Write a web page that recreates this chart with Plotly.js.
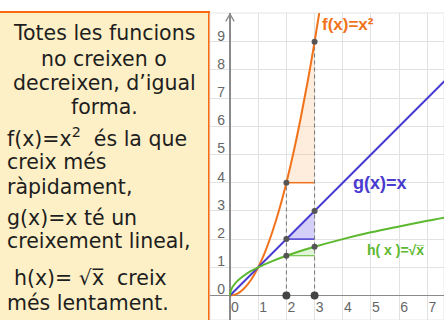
<!DOCTYPE html>
<html>
<head>
<meta charset="utf-8">
<script src="https://cdn.plot.ly/plotly-3.0.1.min.js"></script>
<style>
  html, body { margin: 0; padding: 0; background: #fff; }
  #chart { width: 444px; height: 320px; }
</style>
</head>
<body>
<div id="chart"></div>
<script>
// Sampled points of the three functions
const fX = [0, 0.25, 0.5, 0.75, 1, 1.25, 1.5, 1.75, 2, 2.25, 2.5, 2.75, 3, 3.17];
const fY = [0, 0.06, 0.25, 0.56, 1, 1.56, 2.25, 3.06, 4, 5.06, 6.25, 7.56, 9, 10.05];
const gX = [0, 7.6];
const gY = [0, 7.6];
const hX = [0, 0.02, 0.05, 0.1, 0.2, 0.35, 0.5, 0.75, 1, 1.5, 2, 2.5, 3, 4, 5, 6, 7, 7.6];
const hY = [0, 0.14, 0.22, 0.32, 0.45, 0.59, 0.71, 0.87, 1, 1.22, 1.41, 1.58, 1.73, 2, 2.24, 2.45, 2.65, 2.76];

// Marked points at x = 2 and x = 3
const markX = [2, 3];
const fMark = [4, 9];
const gMark = [2, 3];
const hMark = [1.41, 1.73];
const axisMark = [0, 0];

const xTicks = [0, 1, 2, 3, 4, 5, 6, 7];
const yTicks = [0, 1, 2, 3, 4, 5, 6, 7, 8, 9];

const xRange = [-0.709, 7.589];
const yRange = [-0.869, 10.018];

const ORANGE = '#f0731c';
const BLUE = '#4a3bd0';
const GREEN = '#5cb82e';

// page geometry helpers (pixels -> paper coordinates)
const W = 444, H = 320, ML = 210, MT = 13;
const px = x => (x - ML) / (W - ML);
const py = y => (H - y) / (H - MT);

// slope triangle between the two marked points
function tri(ys, fill) {
  return {
    x: [markX[0], markX[1], markX[1], markX[0]],
    y: [ys[0], ys[0], ys[1], ys[0]],
    mode: 'lines', fill: 'toself', fillcolor: fill,
    line: { width: 0 }, hoverinfo: 'skip'
  };
}
function run(ys, color, w) {
  return {
    x: [markX[0], markX[1]], y: [ys[0], ys[0]],
    mode: 'lines', line: { color: color, width: w }, hoverinfo: 'skip'
  };
}
function dashed(i, top) {
  return {
    x: [markX[i], markX[i]], y: [axisMark[i], top[i]],
    mode: 'lines', line: { color: '#777', width: 1, dash: '4px,3px' }, hoverinfo: 'skip'
  };
}

const traces = [
  tri(fMark, 'rgba(250,175,100,0.22)'),
  tri(gMark, 'rgba(120,105,235,0.32)'),
  tri(hMark, 'rgba(130,210,100,0.25)'),
  run(fMark, ORANGE, 1.5),
  run(gMark, BLUE, 1.5),
  run(hMark, GREEN, 1),
  dashed(0, fMark),
  dashed(1, fMark),
  { x: fX, y: fY, mode: 'lines', line: { color: ORANGE, width: 2, shape: 'spline' } },
  { x: gX, y: gY, mode: 'lines', line: { color: BLUE, width: 2 } },
  { x: hX, y: hY, mode: 'lines', line: { color: GREEN, width: 2, shape: 'spline' } },
  { x: markX, y: fMark, mode: 'markers', marker: { color: '#555', size: 6 } },
  { x: markX, y: gMark, mode: 'markers', marker: { color: '#555', size: 6 } },
  { x: markX, y: hMark, mode: 'markers', marker: { color: '#555', size: 6 } },
  { x: markX, y: axisMark, mode: 'markers', marker: { color: '#444', size: 8 } }
];

const textFont = { family: 'DejaVu Sans', size: 20.5, color: '#1e1e1e' };
function line(text, xpx, ypx, anchor) {
  return {
    xref: 'paper', yref: 'paper', x: px(xpx), y: py(ypx),
    xanchor: anchor, yanchor: 'middle', showarrow: false,
    text: text, font: textFont
  };
}

const annotations = [
  line('Totes les funcions', 104, 33, 'center'),
  line('no creixen o', 104, 59, 'center'),
  line('decreixen, d’igual', 104, 83, 'center'),
  line('forma.', 104, 107, 'center'),
  line('f(x)=x<sup>2</sup>  és la que', 5, 137, 'left'),
  line('creix més', 5, 162, 'left'),
  line('ràpidament,', 5, 187, 'left'),
  line('g(x)=x té un', 5, 218, 'left'),
  line('creixement lineal,', 5, 241, 'left'),
  line('h(x)= √x̅  creix', 12, 278, 'left'),
  line('més lentament.', 5, 303, 'left'),
  // function labels on the graph
  { x: 3.2, y: 9.6, xanchor: 'left', yanchor: 'middle', showarrow: false,
    text: 'f(x)=x²', font: { family: 'Liberation Sans', size: 17, color: ORANGE, weight: 'bold' } },
  { x: 4.3, y: 4.0, xanchor: 'left', yanchor: 'middle', showarrow: false,
    text: 'g(x)=x', font: { family: 'Liberation Sans', size: 18, color: BLUE, weight: 'bold' } },
  { x: 4.8, y: 1.62, xanchor: 'left', yanchor: 'middle', showarrow: false,
    text: 'h( x )=√x̅', font: { family: 'Liberation Sans', size: 14, color: GREEN, weight: 'bold' } }
];

const shapes = [
  // text panel on the left
  { type: 'rect', xref: 'paper', yref: 'paper', layer: 'below',
    x0: px(-3), x1: px(209), y0: py(323), y1: py(12),
    fillcolor: '#fdf0c6', line: { color: '#fa6a10', width: 2 } },
  // faint frame of the graphics view
  { type: 'rect', xref: 'paper', yref: 'paper', layer: 'below',
    x0: 0, x1: 1, y0: 0, y1: 1, line: { color: '#e6e6e6', width: 1 } },
  // arrow tip of the vertical axis
  { type: 'path', xref: 'x', yref: 'y', layer: 'above',
    path: 'M -0.15 9.72 L 0 9.98 L 0.15 9.72',
    line: { color: '#8a8a8a', width: 1.3 } }
];

const axisCommon = {
  showgrid: true, gridcolor: '#e2e2e2', gridwidth: 1,
  zeroline: true, zerolinecolor: '#8a8a8a', zerolinewidth: 1.5,
  showline: false, ticks: '', fixedrange: true,
  tickfont: { family: 'Liberation Sans', size: 14, color: '#666' }
};

const layout = {
  width: W, height: H,
  margin: { l: ML, r: 0, t: MT, b: 0 },
  paper_bgcolor: '#fff', plot_bgcolor: '#fff',
  showlegend: false,
  xaxis: Object.assign({}, axisCommon, {
    range: xRange, tickvals: xTicks, ticktext: xTicks.map(String),
    anchor: 'free', position: (0 - yRange[0]) / (yRange[1] - yRange[0]),
    ticklabelshift: 5, ticklabelstandoff: 2
  }),
  yaxis: Object.assign({}, axisCommon, {
    range: yRange, tickvals: yTicks, ticktext: yTicks.map(String),
    anchor: 'free', position: (0 - xRange[0]) / (xRange[1] - xRange[0]),
    ticklabelshift: -6, ticklabelstandoff: 5
  }),
  annotations: annotations,
  shapes: shapes
};

Plotly.newPlot('chart', traces, layout, { staticPlot: true, displayModeBar: false });
</script>
</body>
</html>
